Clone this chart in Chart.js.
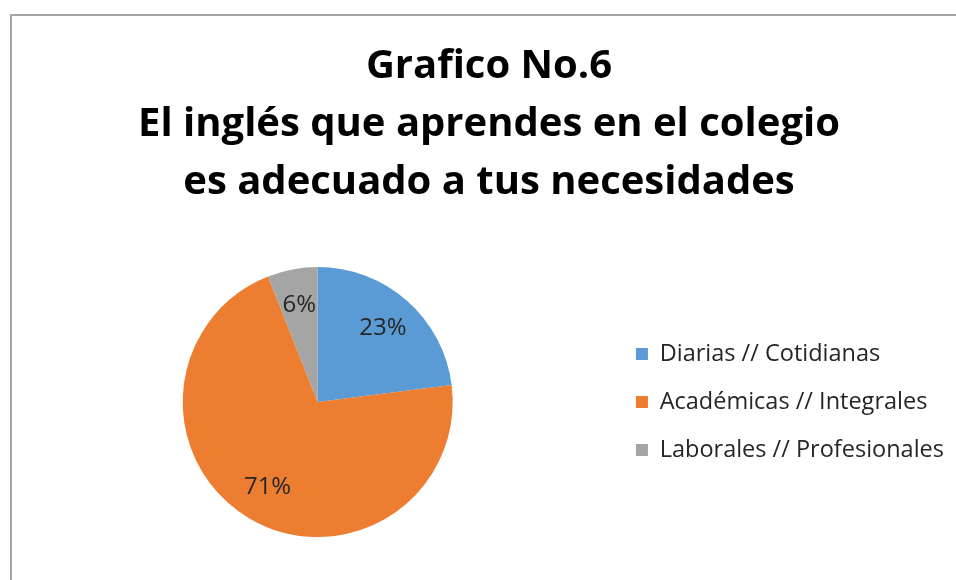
<!DOCTYPE html>
<html>
<head>
<meta charset="utf-8">
<script src="https://cdn.jsdelivr.net/npm/chart.js@4"></script>
<style>
  body { margin: 0; background: #fff; overflow: hidden; }
  #frame {
    position: absolute; left: 10px; top: 14px; width: 980px; height: 600px;
    border: 2px solid #a6a6a6; background: #fff;
  }
  #wrap { position: absolute; left: 0; top: 0; width: 956px; height: 564px; }
</style>
</head>
<body>
<div id="frame"><div id="wrap"><canvas id="myChart"></canvas></div></div>
<script>
'use strict';
// data
let categories = ['Diarias // Cotidianas', 'Académicas // Integrales', 'Laborales // Profesionales'];
let percentages = [23, 71, 6];
let sliceColors = ['#5b9bd5', '#ed7d31', '#a5a5a5'];
let titleLines = ['Grafico No.6', 'El inglés que aprendes en el colegio', 'es adecuado a tus necesidades'];

let ctx = document.getElementById('myChart').getContext('2d');

// draws the % text inside each slice
let sliceLabels = {
  id: 'sliceLabels',
  afterDatasetsDraw(chart) {
    let meta = chart.getDatasetMeta(0);
    let c = chart.ctx;
    c.save();
    c.font = '24px "Open Sans"';
    c.fillStyle = '#262626';
    c.textAlign = 'center';
    c.textBaseline = 'middle';
    meta.data.forEach(function (arc, i) {
      let mid = (arc.startAngle + arc.endAngle) / 2;
      let r = arc.outerRadius * 0.73;
      c.fillText(percentages[i] + '%', arc.x + Math.cos(mid) * r, arc.y + Math.sin(mid) * r);
    });
    c.restore();
  }
};

function renderChart() {
  new Chart(ctx, {
    type: 'pie',
    data: {
      labels: categories,
      datasets: [{
        data: percentages,
        backgroundColor: sliceColors,
        borderWidth: 0
      }]
    },
    options: {
      responsive: true,
      maintainAspectRatio: false,
      animation: false,
      layout: { padding: { left: 12, right: 14, bottom: 43 } },
      plugins: {
        title: {
          display: true,
          text: titleLines,
          color: '#000',
          font: { family: 'Open Sans', size: 40, weight: 'bold', lineHeight: 1.45 },
          padding: { top: 22, bottom: 55 }
        },
        legend: {
          position: 'right',
          fullSize: false,
          labels: {
            color: '#262626',
            font: { family: 'Open Sans', size: 23.5 },
            boxWidth: 12,
            boxHeight: 12,
            padding: 24.5
          }
        },
        tooltip: { enabled: false }
      }
    },
    plugins: [sliceLabels]
  });
}

// make sure text is measured with the right font
Promise.all([
  document.fonts.load('bold 40px "Open Sans"'),
  document.fonts.load('23.5px "Open Sans"')
]).then(renderChart, renderChart);
</script>
</body>
</html>
